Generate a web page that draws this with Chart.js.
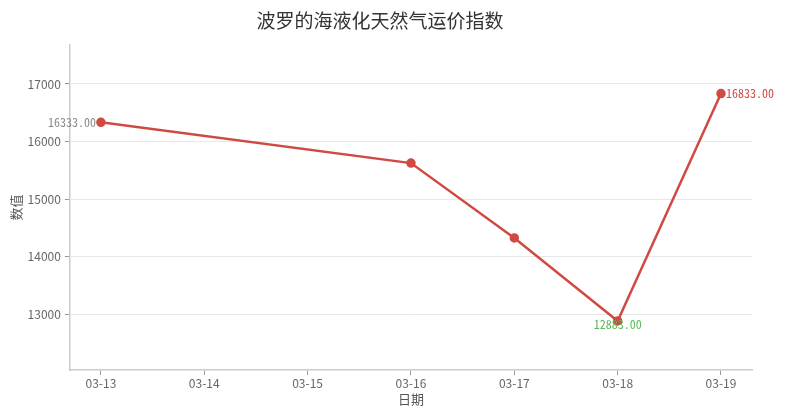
<!DOCTYPE html>
<html>
<head>
<meta charset="utf-8">
<script src="https://cdn.jsdelivr.net/npm/chart.js@4"></script>
<style>
html,body{margin:0;padding:0;background:#fff;}
#wrap{width:792px;height:419px;position:relative;}
</style>
</head>
<body>
<div id="wrap"><canvas id="c"></canvas></div>
<script>
const dates = ['03-13','03-14','03-15','03-16','03-17','03-18','03-19'];
const values = [16333, null, null, 15625, 14325, 12883, 16833];
const yTicks = [13000, 14000, 15000, 16000, 17000];
const titleText = '波罗的海液化天然气运价指数';
const xTitle = '日期';
const yTitle = '数值';

const MFONT = '"Noto Sans Mono CJK SC", "Noto Sans CJK SC", monospace';
const TFONT = '"Noto Sans CJK SC", "Noto Sans", sans-serif';
const LINE = '#cf4a42';

const points = dates.map((d, i) => ({x: i, y: values[i]}));

const labelPlugin = {
  id: 'valLabels',
  afterDatasetsDraw(chart) {
    const ctx = chart.ctx;
    const meta = chart.getDatasetMeta(0);
    const valid = values.map((v, i) => [v, i]).filter(p => p[0] !== null);
    let maxI = valid[0][1], minI = valid[0][1];
    valid.forEach(([v, i]) => { if (v > values[maxI]) maxI = i; if (v < values[minI]) minI = i; });
    ctx.save();
    ctx.font = '12px ' + MFONT;
    ctx.textBaseline = 'middle';
    const first = valid[0][1];
    const pf = meta.data[first];
    ctx.fillStyle = '#8a8a8a';
    ctx.textAlign = 'right';
    ctx.fillText(values[first].toFixed(2), pf.x - 5, pf.y);
    const pm = meta.data[maxI];
    ctx.fillStyle = LINE;
    ctx.textAlign = 'left';
    ctx.fillText(values[maxI].toFixed(2), pm.x + 5, pm.y);
    const pn = meta.data[minI];
    ctx.fillStyle = '#5cb85c';
    ctx.textAlign = 'center';
    ctx.fillText(values[minI].toFixed(2), pn.x, pn.y + 4);
    ctx.restore();
  }
};

new Chart(document.getElementById('c'), {
  type: 'line',
  data: {
    datasets: [{
      data: points,
      borderColor: LINE,
      backgroundColor: LINE,
      borderWidth: 2.5,
      pointRadius: 3.5,
      pointHoverRadius: 3.5,
      spanGaps: true,
      tension: 0
    }]
  },
  options: {
    responsive: true,
    maintainAspectRatio: false,
    animation: false,
    layout: {padding: {left: 8, right: 40, top: 0, bottom: 12}},
    plugins: {
      legend: {display: false},
      tooltip: {enabled: false},
      title: {
        display: true,
        text: titleText,
        color: '#333',
        font: {family: TFONT, size: 19, weight: 'normal'},
        padding: {top: 9, bottom: 13}
      }
    },
    scales: {
      x: {
        type: 'linear',
        min: -0.3,
        max: 6.3,
        afterBuildTicks(axis) { axis.ticks = dates.map((d, i) => ({value: i})); },
        ticks: {
          color: '#666',
          font: {family: TFONT, size: 12},
          padding: 1,
          autoSkip: false,
          maxRotation: 0,
          callback: (v) => dates[v]
        },
        grid: {display: true, drawOnChartArea: false, drawTicks: true, tickLength: 5, tickColor: '#999'},
        border: {color: '#ccc', width: 1.5},
        title: {display: true, text: xTitle, color: '#555', font: {family: TFONT, size: 13}, padding: {top: 0, bottom: 0}}
      },
      y: {
        min: 12030,
        max: 17680,
        afterBuildTicks(axis) { axis.ticks = yTicks.map(v => ({value: v})); },
        ticks: {
          color: '#666',
          font: {family: TFONT, size: 12},
          padding: 4,
          callback: (v) => String(v)
        },
        grid: {color: '#e8e8e8', lineWidth: 1, drawTicks: true, tickLength: 5, tickColor: '#999'},
        border: {color: '#ccc', width: 1.5},
        title: {display: true, text: yTitle, color: '#555', font: {family: TFONT, size: 13}, padding: {top: 0, bottom: 0}}
      }
    }
  },
  plugins: [labelPlugin]
});
</script>
</body>
</html>
